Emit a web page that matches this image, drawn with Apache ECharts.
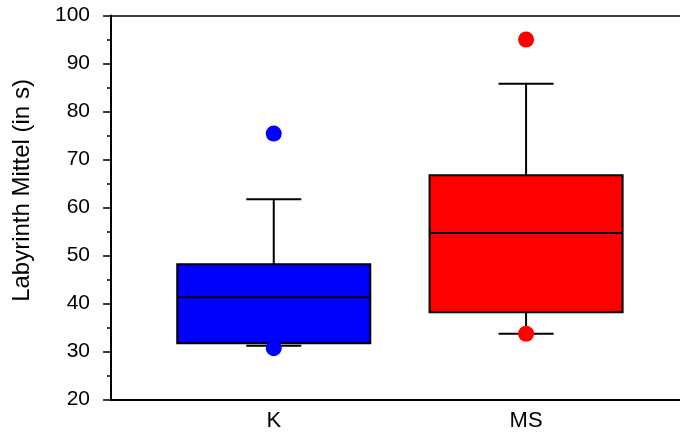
<!DOCTYPE html>
<html><head><meta charset="utf-8">
<script src="https://cdn.jsdelivr.net/npm/echarts@6/dist/echarts.min.js"></script>
<style>html,body{margin:0;padding:0;background:#fff}#c{width:680px;height:435px}</style>
</head><body><div id="c"></div>
<script>
var categories = ['K', 'MS'];
var colors = ['#0000ff', '#ff0000'];
// [lowerWhisker, Q1, median, Q3, upperWhisker]
var boxK = [31.2, 31.7, 41.3, 48.2, 61.7];
var boxMS = [33.7, 38.2, 54.7, 66.7, 85.8];
var outliersK = [75.4, 30.7];
var outliersMS = [95.0, 33.7];
var yTicks = [20, 30, 40, 50, 60, 70, 80, 90, 100];

var boxes = [boxK, boxMS];
var outl = [outliersK, outliersMS];
var boxData = boxes.map(function (b, i) { return [i + 1].concat(b); });
var outData = [];
outl.forEach(function (arr, i) { arr.forEach(function (v) { outData.push({value: [i + 1, v], itemStyle: {color: colors[i], opacity: 1}}); }); });

var FONT = 'Liberation Sans, Arial, sans-serif';
var BOXW = 0.765, CAPW = 0.218;

var chart = echarts.init(document.getElementById('c'));
chart.setOption({
  animation: false,
  grid: {left: 111, right: 0, top: 15.5, bottom: 35.5},
  xAxis: [{
    type: 'value', min: 0.355, max: 2.61, position: 'bottom',
    axisLine: {show: true, onZero: false, lineStyle: {color: '#000', width: 2}},
    axisTick: {show: false},
    splitLine: {show: false},
    axisLabel: {customValues: [1, 2], fontSize: 22, color: '#000', fontFamily: FONT, margin: 10,
      formatter: function (v) { return categories[Math.round(v) - 1] || ''; }}
  }, {
    type: 'value', min: 0.355, max: 2.61, position: 'top',
    axisLine: {show: true, onZero: false, lineStyle: {color: '#000', width: 1.5}},
    axisTick: {show: false}, axisLabel: {show: false}, splitLine: {show: false}
  }],
  yAxis: {
    type: 'value', min: 20, max: 100, interval: 10,
    name: 'Labyrinth Mittel (in s)', nameLocation: 'middle', nameGap: 77,
    nameTextStyle: {fontSize: 24, color: '#000', fontFamily: FONT, padding: [0, 0, 0, 34]},
    axisLine: {show: true, lineStyle: {color: '#000', width: 2}},
    axisTick: {show: true, length: 8, lineStyle: {color: '#000', width: 1.5}},
    minorTick: {show: true, splitNumber: 2, length: 4, lineStyle: {color: '#000', width: 1.5}},
    splitLine: {show: false},
    axisLabel: {fontSize: 21, color: '#000', fontFamily: FONT, margin: 21}
  },
  series: [{
    type: 'custom',
    data: boxData,
    renderItem: function (params, api) {
      var x = api.value(0);
      var lw = api.value(1), q1 = api.value(2), med = api.value(3), q3 = api.value(4), uw = api.value(5);
      var bw = api.size([BOXW, 0])[0];
      var cw = api.size([CAPW, 0])[0];
      var c = api.coord([x, med]);
      var pLw = api.coord([x, lw]), pQ1 = api.coord([x, q1]), pQ3 = api.coord([x, q3]), pUw = api.coord([x, uw]);
      var cx = c[0];
      var st = {stroke: '#000', lineWidth: 2};
      return {type: 'group', children: [
        {type: 'line', shape: {x1: cx, y1: pQ3[1], x2: cx, y2: pUw[1]}, style: st},
        {type: 'line', shape: {x1: cx - cw / 2, y1: pUw[1], x2: cx + cw / 2, y2: pUw[1]}, style: st},
        {type: 'line', shape: {x1: cx, y1: pQ1[1], x2: cx, y2: pLw[1]}, style: st},
        {type: 'line', shape: {x1: cx - cw / 2, y1: pLw[1], x2: cx + cw / 2, y2: pLw[1]}, style: st},
        {type: 'rect', shape: {x: cx - bw / 2, y: pQ3[1], width: bw, height: pQ1[1] - pQ3[1]},
          style: {fill: colors[params.dataIndex], stroke: '#000', lineWidth: 2}},
        {type: 'line', shape: {x1: cx - bw / 2, y1: c[1], x2: cx + bw / 2, y2: c[1]}, style: st}
      ]};
    }
  }, {
    type: 'scatter',
    data: outData,
    symbol: 'circle', symbolSize: 16,
    itemStyle: {opacity: 1},
    z: 5
  }]
});
</script></body></html>
